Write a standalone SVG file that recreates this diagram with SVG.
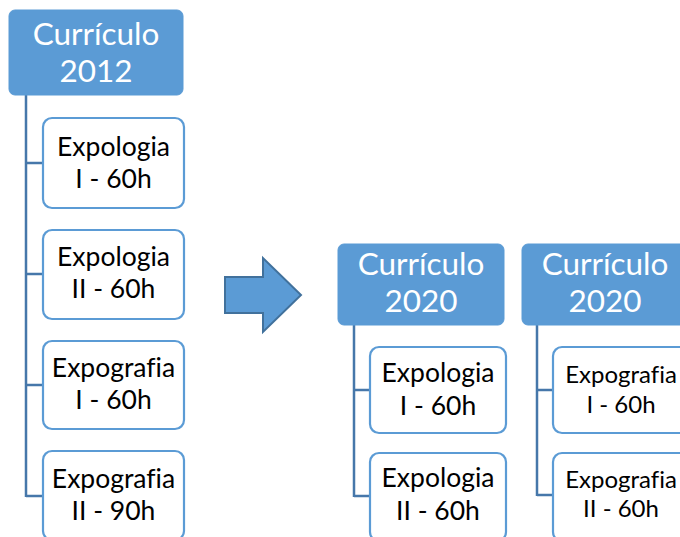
<svg xmlns="http://www.w3.org/2000/svg" width="680" height="537" viewBox="0 0 680 537">
<style>
.hdr{fill:#5b9bd5;stroke:#5b9bd5;stroke-width:1}
.box{fill:#ffffff;stroke:#5b9bd5;stroke-width:2.2}
.conn{fill:none;stroke:#4677aa;stroke-width:2.5}
text{font-family:Lato,"Liberation Sans",sans-serif;text-anchor:middle;font-variant-ligatures:none}
.ht{font-size:31.5px;fill:#ffffff}
.bt{font-size:26.5px;fill:#000000}
.bs{font-size:24px;fill:#000000}
</style>
<rect width="680" height="537" fill="#ffffff"/>
<g id="connectors">
<path class="conn" d="M26 95 V497 M26 163 H43 M26 274 H43 M26 385 H43 M26 496 H43"/>
<path class="conn" d="M354 325 V497 M354 390 H370 M354 496 H370"/>
<path class="conn" d="M537 325 V496 M537 390 H553 M537 495 H553"/>
</g>
<g id="arrow">
<path d="M225 277 H263 V258 L301 295 L263 332 V313 H225 Z" fill="#5b9bd5" stroke="#41719c" stroke-width="2"/>
</g>
<g id="cur2012">
<rect class="hdr" x="9" y="10" width="174" height="85" rx="6"/>
<text class="ht" x="96" y="45">Currículo</text>
<text class="ht" x="96" y="82">2012</text>
</g>
<g id="c1a">
<rect class="box" x="43" y="118" width="141" height="90" rx="9"/>
<text class="bt" x="113.5" y="156">Expologia</text>
<text class="bt" x="113.5" y="188">I - 60h</text>
</g>
<g id="c1b">
<rect class="box" x="43" y="230" width="141" height="89" rx="9"/>
<text class="bt" x="113.5" y="266">Expologia</text>
<text class="bt" x="113.5" y="298">II - 60h</text>
</g>
<g id="c1c">
<rect class="box" x="43" y="341" width="141" height="88" rx="9"/>
<text class="bt" x="113.5" y="377">Expografia</text>
<text class="bt" x="113.5" y="409">I - 60h</text>
</g>
<g id="c1d">
<rect class="box" x="43" y="451" width="141" height="89" rx="9"/>
<text class="bt" x="113.5" y="488">Expografia</text>
<text class="bt" x="113.5" y="520">II - 90h</text>
</g>
<g id="cur2020a">
<rect class="hdr" x="338" y="244" width="166" height="81" rx="6"/>
<text class="ht" x="421" y="275">Currículo</text>
<text class="ht" x="421" y="312">2020</text>
</g>
<g id="c2a">
<rect class="box" x="370" y="347" width="136" height="86" rx="9"/>
<text class="bt" x="438" y="382">Expologia</text>
<text class="bt" x="438" y="415">I - 60h</text>
</g>
<g id="c2b">
<rect class="box" x="370" y="453" width="136" height="88" rx="9"/>
<text class="bt" x="438" y="487">Expologia</text>
<text class="bt" x="438" y="520">II - 60h</text>
</g>
<g id="cur2020b">
<rect class="hdr" x="522" y="244" width="166" height="81" rx="6"/>
<text class="ht" x="605" y="275">Currículo</text>
<text class="ht" x="605" y="312">2020</text>
</g>
<g id="c3a">
<rect class="box" x="553" y="347" width="136" height="86" rx="9"/>
<text class="bs" x="621" y="383">Expografia</text>
<text class="bs" x="621" y="413">I - 60h</text>
</g>
<g id="c3b">
<rect class="box" x="553" y="453" width="136" height="88" rx="9"/>
<text class="bs" x="621" y="488">Expografia</text>
<text class="bs" x="621" y="517">II - 60h</text>
</g>
</svg>
